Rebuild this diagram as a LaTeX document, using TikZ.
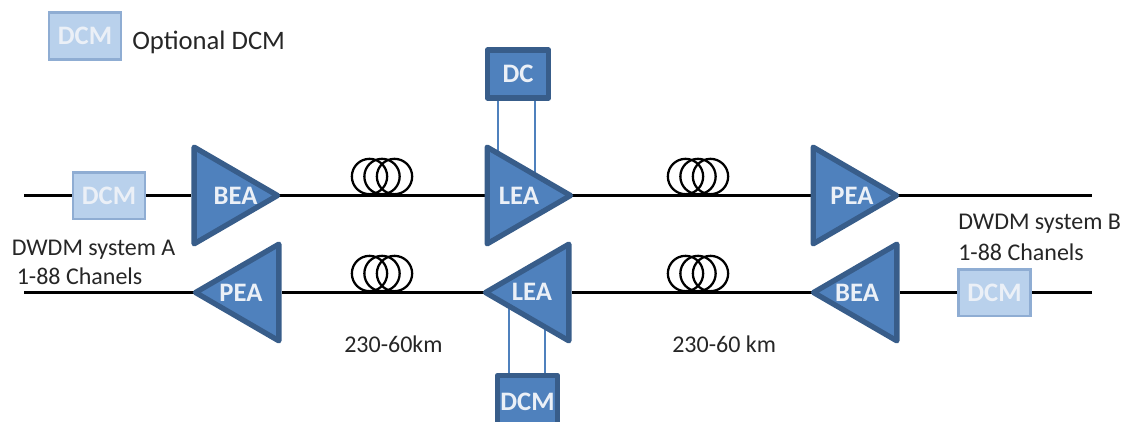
\documentclass[tikz,border=0pt]{standalone}
\usepackage{fontspec}
\setmainfont{Carlito}
\usetikzlibrary{shapes.geometric,backgrounds}
\definecolor{ampfill}{HTML}{4F81BD}
\definecolor{ampedge}{HTML}{385D8A}
\definecolor{optfill}{HTML}{B9D1EC}
\definecolor{optedge}{HTML}{8FADD3}
\definecolor{labeltext}{HTML}{EBF0F7}
\definecolor{plaintext}{HTML}{262626}
\tikzset{
    amp/.style={draw=ampedge, fill=ampfill, line width=4pt, line join=round, isosceles triangle,
        isosceles triangle apex angle=60, isosceles triangle stretches, inner sep=0pt,
        minimum height=62.5pt, minimum width=72.5pt},
    amplabel/.style={text=labeltext, inner sep=0pt, font=\fontsize{20}{22}\selectfont\bfseries},
    dcbox/.style={draw=ampedge, fill=ampfill, line width=4pt, line join=round, text=labeltext,
        inner sep=0pt, font=\fontsize{20}{22}\selectfont\bfseries},
    optbox/.style={draw=optedge, fill=optfill, line width=2pt, minimum width=54pt, minimum height=35pt,
        inner sep=0pt, text=labeltext, font=\fontsize{20}{22}\selectfont\bfseries},
    coil/.style={draw=black, circle, line width=1.7pt, minimum size=26.5pt, inner sep=0pt},
    wire/.style={draw=black, line width=2.2pt},
    apexwire/.style={wire, shorten <=-3.5pt},
    tapline/.style={draw=ampfill, line width=1.3pt},
    note/.style={text=plaintext, inner sep=0pt, anchor=west, font=\fontsize{18}{20}\selectfont}
}
\begin{document}
\begin{tikzpicture}[x=0.75pt,y=-0.75pt]
        \clip (0,0) rectangle (1126,421);
        \coordinate (inA) at (24,195.5);
        \coordinate (outA) at (1092,195.5);
        \coordinate (inB) at (1092,292.5);
        \coordinate (outB) at (24,292.5);
        \coordinate (tapa) at (498,156);
        \coordinate (tapb) at (535,176);
        \coordinate (tapc) at (509,303);
        \coordinate (tapd) at (545,323);
        \node[optbox] (legend) at (85,36) {DCM};
        \node[note, font=\fontsize{20}{22}\selectfont] (legendtext) at (132,42) {Optional DCM};
        \node[optbox] (dcmA) at (109,195.5) {DCM};
        \node[optbox] (dcmB) at (994.5,292.5) {DCM};
        \node[amp] (beaA) at (222,195.5) {};
        \node[amp] (leaA) at (515,195.5) {};
        \node[amp] (peaA) at (841,195.5) {};
        \node[amp, shape border rotate=180] (peaB) at (251,292.5) {};
        \node[amp, shape border rotate=180] (leaB) at (541,292.5) {};
        \node[amp, shape border rotate=180] (beaB) at (869,292.5) {};
        \node[amplabel] (beaAtext) at (235.5,195.5) {BEA};
        \node[amplabel] (leaAtext) at (519,195.5) {LEA};
        \node[amplabel] (peaAtext) at (852,195.5) {PEA};
        \node[amplabel] (peaBtext) at (241,293) {PEA};
        \node[amplabel] (leaBtext) at (532,292) {LEA};
        \node[amplabel] (beaBtext) at (857,293) {BEA};
        \node[dcbox, minimum width=46pt, minimum height=36pt] (dc) at (518,74) {DC};
        \node[dcbox, minimum width=45pt, minimum height=40pt] (dcm) at (527.5,402) {DCM};
        \begin{scope}[on background layer]
            \draw[wire] (inA) -- (dcmA);
            \draw[wire] (dcmA) -- (beaA.lower side);
            \draw[apexwire] (beaA.apex) -- (leaA.lower side);
            \draw[apexwire] (leaA.apex) -- (peaA.lower side);
            \draw[apexwire] (peaA.apex) -- (outA);
            \draw[wire] (inB) -- (dcmB);
            \draw[wire] (dcmB) -- (beaB.lower side);
            \draw[apexwire] (beaB.apex) -- (leaB.lower side);
            \draw[apexwire] (leaB.apex) -- (peaB.lower side);
            \draw[apexwire] (peaB.apex) -- (outB);
            \draw[tapline] (tapa |- dc.south) -- (tapa);
            \draw[tapline] (tapb |- dc.south) -- (tapb);
            \draw[tapline] (tapc |- dcm.north) -- (tapc);
            \draw[tapline] (tapd |- dcm.north) -- (tapd);
        \end{scope}
        \foreach \cx/\cy/\cn in {382/176.5/a,698/176.5/b,382/273.5/c,698/273.5/d} {
            \node[coil] (coil\cn1) at (\cx-12.5,\cy) {};
            \node[coil] (coil\cn2) at (\cx,\cy) {};
            \node[coil] (coil\cn3) at (\cx+12.5,\cy) {};
        }
        \node[note] (sysA) at (11.5,250) {DWDM system A};
        \node[note] (chanA) at (16.5,276) {1-88 Chanels};
        \node[note] (sysB) at (958,224) {DWDM system B};
        \node[note] (chanB) at (958,252.5) {1-88 Chanels};
        \node[note] (spanA) at (344,344) {230-60km};
        \node[note] (spanB) at (672,344) {230-60 km};
    \end{tikzpicture}
\end{document}
